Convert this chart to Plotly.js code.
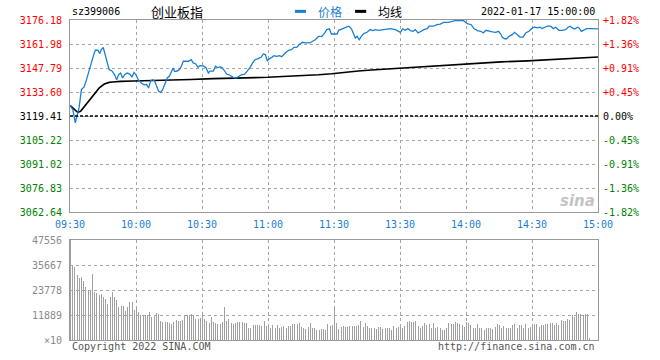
<!DOCTYPE html>
<html>
<head>
<meta charset="utf-8">
<script src="https://cdn.plot.ly/plotly-3.0.1.min.js"></script>
<style>html,body{margin:0;padding:0;background:#fff;}#chart{width:660px;height:360px;}</style>
</head>
<body>
<div id="chart"></div>
<script>
// ---- data (minutes since 09:30, lunch break removed) ----
const preClose = 3119.41;

const priceTime = [0.0,1.3,2.4,3.3,4.1,5.2,6.4,7.5,8.5,9.7,10.8,11.5,12.7,13.5,14.2,15.1,16.0,16.9,17.8,19.0,20.3,21.2,22.1,23.0,23.9,24.8,26.0,27.2,28.2,29.1,30.0,31.0,32.4,33.6,34.8,35.7,36.7,37.6,38.5,39.4,40.3,41.2,42.1,43.0,44.2,45.1,46.0,46.9,47.5,48.4,49.7,50.6,51.5,52.9,53.9,55.1,56.0,57.2,58.2,59.1,60.6,61.8,62.9,63.6,65.2,66.1,67.0,68.2,69.1,70.0,71.2,72.7,74.2,75.5,76.7,77.9,79.4,80.6,81.8,83.0,84.1,85.6,86.8,87.9,88.8,89.7,90.6,91.7,92.7,93.9,95.2,96.2,97.0,98.2,99.4,100.6,101.8,103.0,104.5,105.8,107.2,109.1,110.3,111.5,113.0,114.5,115.8,116.7,117.9,118.8,120.3,121.4,122.1,123.6,125.2,126.7,127.9,128.8,129.7,130.5,131.5,132.4,133.5,135.0,136.5,137.6,138.8,140.3,141.8,143.3,145.6,147.9,149.1,150.2,151.2,152.4,153.6,154.7,155.9,157.0,158.2,159.4,160.9,162.3,163.3,165.3,166.8,168.3,169.8,172.0,173.6,175.1,177.4,178.9,180.6,182.4,183.6,185.2,186.7,187.9,189.0,190.5,192.0,193.5,194.8,195.8,196.5,197.6,198.5,199.5,201.0,202.1,203.3,204.5,206.0,207.1,208.6,210.2,211.2,212.4,213.6,214.7,215.8,217.0,218.5,219.7,220.8,222.3,223.8,225.3,226.4,227.3,228.3,229.4,230.6,231.4,232.4,233.6,234.8,236.6,238.9,240.0];
const priceValue = [3125.7,3123.1,3115.3,3119.2,3124.2,3135.0,3136.6,3140.9,3145.8,3151.8,3155.7,3158.3,3158.3,3156.3,3158.6,3160.0,3155.7,3150.8,3146.8,3146.2,3143.8,3140.9,3143.8,3144.8,3141.9,3143.8,3144.8,3144.2,3142.4,3145.2,3143.8,3140.9,3138.9,3137.9,3138.1,3136.0,3140.3,3140.9,3140.0,3137.0,3134.0,3133.4,3135.0,3137.9,3141.9,3142.9,3145.8,3147.8,3145.8,3145.8,3146.8,3148.8,3151.8,3151.8,3151.8,3152.7,3150.8,3150.2,3148.2,3149.2,3149.0,3148.0,3144.8,3146.0,3146.0,3148.8,3148.0,3148.4,3148.0,3146.6,3144.2,3143.5,3142.3,3141.9,3142.9,3143.8,3144.2,3146.0,3148.0,3150.8,3152.7,3153.3,3154.1,3156.1,3155.7,3152.1,3153.3,3154.1,3155.1,3154.7,3155.1,3154.5,3155.7,3157.1,3158.3,3158.6,3160.0,3160.0,3162.0,3163.0,3162.6,3162.6,3163.6,3164.5,3166.5,3166.5,3168.5,3170.5,3171.0,3167.9,3167.9,3167.9,3170.1,3170.9,3171.5,3172.5,3171.1,3168.5,3165.5,3166.5,3164.5,3166.5,3168.1,3168.9,3170.5,3169.9,3170.5,3170.1,3170.5,3170.5,3171.1,3170.5,3169.5,3168.9,3170.9,3170.1,3171.1,3169.9,3169.5,3170.5,3168.5,3169.5,3170.5,3171.1,3172.5,3172.5,3173.4,3173.8,3174.8,3174.8,3175.4,3175.8,3175.8,3175.8,3174.0,3173.4,3171.1,3169.9,3169.5,3168.5,3170.1,3169.5,3169.1,3168.9,3169.5,3167.9,3165.9,3165.1,3165.1,3166.5,3167.5,3168.9,3167.5,3166.1,3166.1,3168.5,3169.5,3171.5,3171.9,3171.5,3171.9,3171.1,3171.9,3172.5,3172.5,3171.1,3171.9,3170.1,3170.1,3170.5,3171.9,3172.5,3171.5,3170.9,3171.9,3171.5,3169.5,3170.1,3171.1,3171.1,3171.1,3170.9];

const avgTime = [0,2,3.5,4.8,6.6,8.8,11.1,13.3,15.6,17.8,19.3,23,29,45,55,65,80,90,99,106,113,119,121,125,131,137,144,151,158,164,172,179,185,196,208,218,226,235,240];
const avgValue = [3125.7,3123.1,3121.6,3122.2,3125.1,3129.0,3133.0,3136.0,3138.3,3139.3,3139.5,3139.9,3140.1,3140.5,3141.0,3141.5,3141.9,3142.3,3142.9,3143.2,3143.8,3144.4,3144.7,3145.4,3146.0,3146.6,3147.2,3147.8,3148.2,3148.8,3149.4,3150.2,3150.8,3151.4,3152.0,3152.6,3153.2,3153.7,3154.3];

// volume (x10 lots), one bar per minute starting 09:30
const volValue = [47556,
35030,34550,30900,29300,30100,28050,25350,23780,23780,31200,
22980,22190,21400,21870,20600,19500,16960,20600,22980,20600,
19020,15850,16330,16330,13790,15850,17910,17910,14270,15370,
13470,11890,11890,11890,11890,13470,11100,11890,12680,12200,
9190,8400,8720,8720,7930,7450,8400,9510,9030,9030,
9510,11890,11890,11890,12360,11890,9990,9990,10300,
12360,9830,9190,7930,11100,8720,7930,7450,7450,8720,15850,9190,9990,8240,7610,7930,8400,8720,8720,7930,8240,5860,5860,7130,7130,7130,7130,6820,9030,6820,
6340,5860,7130,5860,7130,5860,6340,6820,5860,6820,6820,7450,7450,7450,7930,6340,5860,5230,6340,7930,5550,5860,4760,4760,5230,5230,4760,7770,6820,7130,
15060,7930,5230,6340,6820,6340,6340,6820,6820,6820,6820,7130,9030,6340,7930,6820,5860,5550,5860,5230,6340,6020,5230,5550,5860,5860,4760,6820,5860,6020,
6340,5860,6820,8720,9190,8720,8720,9190,6660,5860,6820,7930,7130,7450,5860,7930,5860,6340,5550,4910,4910,5860,7930,7770,7770,8400,7930,7610,7130,6340,
8720,7930,7130,5860,5860,7450,5860,5860,4760,5860,5860,5550,5230,6340,7610,7130,5860,6660,5550,5550,5860,7130,7610,5860,7130,7130,5550,7450,5550,6340,
6340,7450,7770,6340,7130,7130,7450,7450,7930,7930,7130,8240,7130,9510,9040,9190,9990,9510,11890,10780,13470,12200,12360,11890,12360,12200,1110];

const priceTicks = [3062.64,3076.83,3091.02,3105.22,3119.41,3133.60,3147.79,3161.98,3176.18];
const priceTickText = ['3062.64','3076.83','3091.02','3105.22','3119.41','3133.60','3147.79','3161.98','3176.18'];
const pctTickText = ['-1.82%','-1.36%','-0.91%','-0.45%','0.00%','+0.45%','+0.91%','+1.36%','+1.82%'];
const timeTicks = [0,30,60,90,120,150,180,210,240];
const timeLabels = ['09:30','10:00','10:30','11:00','11:30','13:30','14:00','14:30','15:00'];
const volTicks = [0,11889,23778,35667,47556];
const volTickText = ['\u00d710','11889','23778','35667','47556'];

// ---- styling ----
const MONO = 'DejaVu Sans Mono, Liberation Mono, monospace';
const CJK = 'Noto Sans CJK SC, sans-serif';
const BLUE = '#1a7fd4';
const RED = '#ff0000';
const GREEN = '#008000';

function colorFor(v){ return v > preClose + 0.001 ? RED : (v < preClose - 0.001 ? GREEN : '#000'); }
const leftText = priceTicks.map((v,i)=>'<span style="color:'+colorFor(v)+'">'+priceTickText[i]+'</span>');
const rightText = priceTicks.map((v,i)=>'<span style="color:'+colorFor(v)+'">'+pctTickText[i]+'</span>');

const volTime = volValue.map((_,i)=>i);

const traces = [
  {x:[0,240], y:[preClose,preClose], xaxis:'x', yaxis:'y3', mode:'lines',
   line:{color:'#000', width:1.5, dash:'3px,2px'}, hoverinfo:'skip'},
  {x:avgTime, y:avgValue, xaxis:'x', yaxis:'y', mode:'lines', line:{color:'#000', width:1.6}, name:'均线'},
  {x:priceTime, y:priceValue, xaxis:'x', yaxis:'y', mode:'lines', line:{color:BLUE, width:1.3}, name:'价格'},
  {x:volTime, y:volValue, xaxis:'x2', yaxis:'y2', type:'bar', width:0.45, offset:0,
   marker:{color:'#a0a0a0', line:{width:0}}, name:'成交量'}
];

const axStyle = {showline:true, mirror:true, linecolor:'#999', linewidth:1, zeroline:false, ticks:'', layer:'above traces'};
const grid = {showgrid:true, gridcolor:'#a6a6a6', gridwidth:1, griddash:'dot'};

const layout = {
  width:660, height:360,
  margin:{l:70, r:62, t:20, b:20, pad:0},
  paper_bgcolor:'#fff', plot_bgcolor:'#fff',
  showlegend:false, bargap:0,
  xaxis: Object.assign({}, axStyle, grid, {domain:[0,1], anchor:'y', range:[0,240], tickmode:'array',
    tickvals:timeTicks, ticktext:timeLabels, tickfont:{family:MONO, size:10, color:BLUE}, ticklabelstandoff:3}),
  yaxis: Object.assign({}, axStyle, grid, {domain:[0.4,1], anchor:'x', range:[3062.64,3176.18], tickmode:'array',
    tickvals:priceTicks, ticktext:leftText, tickfont:{family:MONO, size:10, color:'#000'}, ticklabelstandoff:5}),
  yaxis3: {overlaying:'y', side:'right', anchor:'x', range:[3062.64,3176.18], tickmode:'array',
    tickvals:priceTicks, ticktext:rightText, tickfont:{family:MONO, size:10, color:'#000'},
    showgrid:false, zeroline:false, showline:false, ticks:'', ticklabelstandoff:4},
  xaxis2: Object.assign({}, axStyle, grid, {domain:[0,1], anchor:'y2', range:[0,240], tickmode:'array',
    tickvals:timeTicks, showticklabels:false}),
  yaxis2: Object.assign({}, axStyle, grid, {domain:[0,0.3125], anchor:'x2', range:[0,47556], tickmode:'array',
    tickvals:volTicks, ticktext:volTickText, tickfont:{family:MONO, size:10, color:'#8a8a8a'}, ticklabelstandoff:5}),
  shapes: [
    {type:'line', xref:'paper', yref:'paper', x0:0.426, x1:0.447, y0:1.027, y1:1.027, line:{color:BLUE, width:3}},
    {type:'line', xref:'paper', yref:'paper', x0:0.540, x1:0.561, y0:1.027, y1:1.027, line:{color:'#000', width:3}}
  ],
  annotations:[
    {xref:'paper', yref:'paper', x:0, y:1.027, xanchor:'left', yanchor:'middle', showarrow:false,
     text:'sz399006', font:{family:MONO, size:10, color:'#000'}},
    {xref:'paper', yref:'paper', x:0.203, y:1.027, xanchor:'center', yanchor:'middle', showarrow:false,
     text:'创业板指', font:{family:CJK, size:13, color:'#000'}},
    {xref:'paper', yref:'paper', x:0.466, y:1.027, xanchor:'left', yanchor:'middle', showarrow:false,
     text:'价格', font:{family:CJK, size:12, color:BLUE}},
    {xref:'paper', yref:'paper', x:0.580, y:1.027, xanchor:'left', yanchor:'middle', showarrow:false,
     text:'均线', font:{family:CJK, size:12, color:'#000'}},
    {xref:'paper', yref:'paper', x:0.999, y:1.027, xanchor:'right', yanchor:'middle', showarrow:false,
     text:'2022-01-17 15:00:00', font:{family:MONO, size:10, color:'#000'}},
    {xref:'paper', yref:'paper', x:0, y:-0.02, xanchor:'left', yanchor:'middle', showarrow:false,
     text:'Copyright 2022 SINA.COM', font:{family:MONO, size:10, color:'#555'}},
    {xref:'paper', yref:'paper', x:0.999, y:-0.02, xanchor:'right', yanchor:'middle', showarrow:false,
     text:'http://finance.sina.com.cn', font:{family:MONO, size:10, color:'#555'}},
    {xref:'paper', yref:'paper', x:0.998, y:0.435, xanchor:'right', yanchor:'middle', showarrow:false,
     text:'<b><i>sina</i></b>', font:{family:'DejaVu Sans, sans-serif', size:15, color:'#c4c4c4'}}
  ]
};

Plotly.newPlot('chart', traces, layout, {displayModeBar:false, staticPlot:true});
</script>
</body>
</html>
